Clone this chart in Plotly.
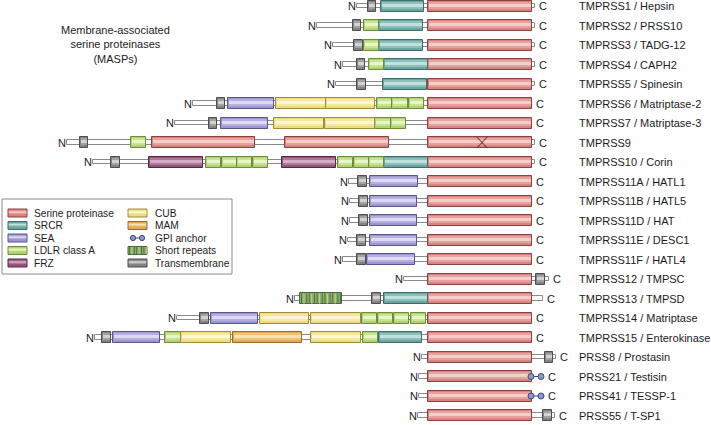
import plotly.graph_objects as go
import numpy as np

# ---------------- data ----------------
proteins = ["TMPRSS1 / Hepsin", "TMPRSS2 / PRSS10", "TMPRSS3 / TADG-12", "TMPRSS4 / CAPH2",
            "TMPRSS5 / Spinesin", "TMPRSS6 / Matriptase-2", "TMPRSS7 / Matriptase-3", "TMPRSS9",
            "TMPRSS10 / Corin", "TMPRSS11A / HATL1", "TMPRSS11B / HATL5", "TMPRSS11D / HAT",
            "TMPRSS11E / DESC1", "TMPRSS11F / HATL4", "TMPRSS12 / TMPSC", "TMPRSS13 / TMPSD",
            "TMPRSS14 / Matriptase", "TMPRSS15 / Enterokinase", "PRSS8 / Prostasin",
            "PRSS21 / Testisin", "PRSS41 / TESSP-1", "PRSS55 / T-SP1"]

# polypeptide chain extent (N terminus -> C terminus), horizontal diagram units
chain_start = [357, 317, 333, 343, 336, 193, 175, 67, 93, 349, 350, 350, 348, 343,
               404, 295, 177, 95, 422, 419, 419, 418]
chain_end = [535, 535, 535, 535, 535, 532, 532, 535, 535, 532, 532, 532, 532, 532,
             549, 543, 532, 532, 556, 532, 532, 555]

# domains: (row, start, end)
serine_proteinase = [(0, 428, 532), (1, 428, 532), (2, 428, 532), (3, 428, 532), (4, 428, 532),
                     (5, 428, 532), (6, 428, 532), (7, 152, 255), (7, 285, 389), (7, 428, 532),
                     (8, 428, 532), (9, 428, 532), (10, 428, 532), (11, 428, 532), (12, 428, 532),
                     (13, 428, 532), (14, 428, 532), (15, 428, 532), (16, 428, 532), (17, 428, 532),
                     (18, 428, 532), (19, 428, 532), (20, 428, 532), (21, 428, 532)]
srcr = [(0, 381, 424), (1, 379, 423), (2, 379, 423), (3, 384, 428), (4, 383, 427),
        (8, 384, 428), (15, 384, 428), (17, 379, 422)]
sea = [(5, 228, 274), (6, 221, 268), (9, 370, 418), (10, 370, 417), (11, 370, 417),
       (12, 370, 417), (13, 367, 415), (16, 211, 258), (17, 113, 160)]
ldlr = [(1, 364, 379), (2, 364, 379), (3, 369, 384),
        (5, 377, 392), (5, 392, 408), (5, 409, 424),
        (6, 375, 391), (6, 391, 406), (7, 131, 146),
        (8, 206, 221), (8, 222, 237), (8, 237, 252), (8, 253, 268),
        (8, 338, 353), (8, 354, 369), (8, 369, 384),
        (16, 362, 377), (16, 378, 393), (16, 394, 409), (16, 411, 426),
        (17, 165, 181), (17, 363, 378)]
frz = [(8, 149, 203), (8, 282, 336)]
cub = [(5, 276, 326), (5, 326, 375), (6, 274, 324), (6, 325, 375),
       (16, 260, 309), (16, 311, 361), (17, 181, 231), (17, 311, 361)]
mam = [(17, 233, 302)]
transmembrane = [(0, 368, 376), (1, 353, 361), (2, 354, 363), (3, 357, 365), (4, 357, 366),
                 (5, 217, 225), (6, 209, 217), (7, 80, 88), (8, 111, 120), (9, 358, 367),
                 (10, 359, 368), (11, 359, 368), (12, 357, 366), (13, 357, 366), (14, 536, 545),
                 (15, 372, 381), (16, 200, 209), (17, 102, 111), (18, 545, 553), (21, 543, 552)]
short_repeats = [(15, 300, 342)]
gpi_anchor = [(19, 531, 541), (20, 531, 541)]
inactive_site = [(7, 482)]

legend_col1 = ["Serine proteinase", "SRCR", "SEA", "LDLR class A", "FRZ"]
legend_col2 = ["CUB", "MAM", "GPI anchor", "Short repeats", "Transmembrane"]
title_text = "Membrane-associated<br>serine proteinases<br>(MASPs)"

# ---------------- styles ----------------
W, H = 711, 425
ROW_PX, FIRST_PX = 19.5, 6.0
BOX_H = 11 / ROW_PX
CHAIN_H = 4.5 / ROW_PX
FONT = "Liberation Sans, Arial, Helvetica, sans-serif"
TXT = "#1c1c1c"

styles = {  # base, mid, light, border
    "Serine proteinase": ("#d7837f", "#e6a29d", "#f5cdc9", "#8e4040"),
    "SRCR": ("#6aa5a2", "#8dbfbb", "#c2e1dd", "#3d6e6b"),
    "SEA": ("#9c97d1", "#b5b0e0", "#dedaf5", "#59558f"),
    "LDLR class A": ("#b0d272", "#c8e392", "#e8f5c8", "#6d8d3a"),
    "FRZ": ("#93567b", "#b07898", "#d6abc4", "#55284a"),
    "CUB": ("#eedb7e", "#f6e8a4", "#fdf7d8", "#9c8c3c"),
    "MAM": ("#e5a853", "#f0c27a", "#f9e1b6", "#9a6a28"),
    "Transmembrane": ("#838383", "#a3a3a3", "#d2d2d2", "#4e4e4e"),
}
SR_BASE, SR_BORDER, SR_DARK, SR_YELLOW = "#86ad78", "#48683c", "#4b7746", "#d9c85e"
GPI_FILL, GPI_LINE = "#8b9bc8", "#3a4876"

domain_sets = [("Serine proteinase", serine_proteinase), ("SRCR", srcr), ("SEA", sea),
               ("LDLR class A", ldlr), ("FRZ", frz), ("CUB", cub), ("MAM", mam),
               ("Transmembrane", transmembrane)]

fig = go.Figure()

# backbone chain
rows = list(range(len(proteins)))
fig.add_trace(go.Bar(orientation="h", y=rows, base=chain_start,
                     x=[e - s for s, e in zip(chain_start, chain_end)], width=CHAIN_H,
                     marker=dict(color="white", line=dict(color="#8a8a8a", width=1)),
                     hoverinfo="skip", showlegend=False))

# domain bodies
for name, segs in domain_sets:
    base, mid, light, border = styles[name]
    fig.add_trace(go.Bar(orientation="h", y=[s[0] for s in segs], base=[s[1] for s in segs],
                         x=[s[2] - s[1] for s in segs], width=BOX_H,
                         marker=dict(color=base, line=dict(color=border, width=1)),
                         hoverinfo="skip", showlegend=False, name=name))
# short repeats body
fig.add_trace(go.Bar(orientation="h", y=[s[0] for s in short_repeats], base=[s[1] for s in short_repeats],
                     x=[s[2] - s[1] for s in short_repeats], width=BOX_H,
                     marker=dict(color=SR_BASE, line=dict(color=SR_BORDER, width=1)),
                     hoverinfo="skip", showlegend=False))

# cylinder-like shading bands
for name, segs in domain_sets:
    base, mid, light, border = styles[name]
    for col, wd, off in ((mid, 0.36, -0.21), (light, 0.14, -0.11)):
        fig.add_trace(go.Bar(orientation="h", y=[s[0] for s in segs],
                             base=[s[1] + 0.8 for s in segs],
                             x=[s[2] - s[1] - 1.6 for s in segs], width=wd, offset=off,
                             marker=dict(color=col, line=dict(width=0)),
                             hoverinfo="skip", showlegend=False))

# short repeat stripes
for r, s, e in short_repeats:
    xs_d = np.arange(s + 1.5, e - 0.5, 2.6)
    xs_y = np.arange(s + 4.0, e - 2, 7.8)
    fig.add_trace(go.Scatter(x=xs_d, y=[r] * len(xs_d), mode="markers",
                             marker=dict(symbol="line-ns", size=7.3, line=dict(color=SR_DARK, width=1)),
                             hoverinfo="skip", showlegend=False))
    fig.add_trace(go.Scatter(x=xs_y, y=[r] * len(xs_y), mode="markers",
                             marker=dict(symbol="line-ns", size=7.3, line=dict(color=SR_YELLOW, width=1.4)),
                             hoverinfo="skip", showlegend=False))

# GPI anchors
gx, gy = [], []
for r, a, b in gpi_anchor:
    gx += [a, b, None]
    gy += [r, r, None]
fig.add_trace(go.Scatter(x=gx, y=gy, mode="lines+markers",
                         line=dict(color=GPI_LINE, width=1),
                         marker=dict(size=6, color=GPI_FILL, line=dict(color=GPI_LINE, width=1)),
                         hoverinfo="skip", showlegend=False))

# inactive catalytic domain cross
xx, xy = [], []
for r, c in inactive_site:
    xx += [c - 5, c + 5, None, c - 5, c + 5, None]
    xy += [r - 0.27, r + 0.27, None, r + 0.27, r - 0.27, None]
fig.add_trace(go.Scatter(x=xx, y=xy, mode="lines", line=dict(color="#4a2020", width=1),
                         hoverinfo="skip", showlegend=False))

# ---------------- annotations ----------------
ann = []
gpi_end = {r: b for r, a, b in gpi_anchor}
for i, p in enumerate(proteins):
    ann.append(dict(x=577, y=i, xref="x", yref="y", text=p, showarrow=False, xanchor="left",
                    yanchor="middle", font=dict(size=11, color=TXT, family=FONT)))
    ann.append(dict(x=chain_start[i], y=i, xref="x", yref="y", text="N", showarrow=False,
                    xanchor="right", yanchor="middle", xshift=0.5,
                    font=dict(size=11, color=TXT, family=FONT)))
    cx = chain_end[i] + 2 if i not in gpi_end else gpi_end[i] + 5
    ann.append(dict(x=cx, y=i, xref="x", yref="y", text="C", showarrow=False,
                    xanchor="left", yanchor="middle",
                    font=dict(size=11, color=TXT, family=FONT)))


def px(x):
    return x / W


def py(y):
    return 1 - y / H


ann.append(dict(x=px(116), y=py(45), xref="paper", yref="paper", text=title_text, showarrow=False,
                xanchor="center", yanchor="middle", align="center",
                font=dict(size=11, color=TXT, family=FONT)))

shapes = []
# legend frame
shapes.append(dict(type="rect", xref="paper", yref="paper", x0=px(2), x1=px(232),
                   y0=py(274), y1=py(199), line=dict(color="#8a8a8a", width=1), fillcolor="white",
                   layer="below"))
leg_y = [213, 225.5, 238, 250.5, 263]


def swatch(x0, yc, name):
    base, mid, light, border = styles[name]
    shapes.append(dict(type="rect", xref="paper", yref="paper", x0=px(x0), x1=px(x0 + 19),
                       y0=py(yc + 4), y1=py(yc - 4), fillcolor=base, line=dict(color=border, width=1)))
    shapes.append(dict(type="rect", xref="paper", yref="paper", x0=px(x0 + 0.8), x1=px(x0 + 18.2),
                       y0=py(yc + 1), y1=py(yc - 2.5), fillcolor=mid, line=dict(width=0)))
    shapes.append(dict(type="rect", xref="paper", yref="paper", x0=px(x0 + 0.8), x1=px(x0 + 18.2),
                       y0=py(yc - 0.2), y1=py(yc - 1.6), fillcolor=light, line=dict(width=0)))


for k, name in enumerate(legend_col1):
    swatch(8, leg_y[k], name)
    ann.append(dict(x=px(32), y=py(leg_y[k]), xref="paper", yref="paper", text=name, showarrow=False,
                    xanchor="left", yanchor="middle", font=dict(size=10.2, color=TXT, family=FONT)))
for k, name in enumerate(legend_col2):
    yc = leg_y[k]
    if name in styles:
        swatch(128, yc, name)
    elif name == "GPI anchor":
        shapes.append(dict(type="line", xref="paper", yref="paper", x0=px(133), x1=px(142),
                           y0=py(yc), y1=py(yc), line=dict(color=GPI_LINE, width=1)))
        for cxp in (133, 142):
            shapes.append(dict(type="circle", xref="paper", yref="paper", x0=px(cxp - 2.6),
                               x1=px(cxp + 2.6), y0=py(yc + 2.6), y1=py(yc - 2.6),
                               fillcolor=GPI_FILL, line=dict(color=GPI_LINE, width=1)))
    elif name == "Short repeats":
        shapes.append(dict(type="rect", xref="paper", yref="paper", x0=px(128), x1=px(147),
                           y0=py(yc + 4), y1=py(yc - 4), fillcolor=SR_BASE,
                           line=dict(color=SR_BORDER, width=1)))
        for j, sx in enumerate(np.arange(129.5, 147, 2.4)):
            c = SR_YELLOW if j % 3 == 1 else SR_DARK
            shapes.append(dict(type="line", xref="paper", yref="paper", x0=px(sx), x1=px(sx),
                               y0=py(yc + 3.5), y1=py(yc - 3.5), line=dict(color=c, width=1)))
    ann.append(dict(x=px(153), y=py(yc), xref="paper", yref="paper", text=name, showarrow=False,
                    xanchor="left", yanchor="middle", font=dict(size=10.2, color=TXT, family=FONT)))

y_top = -FIRST_PX / ROW_PX
y_bot = (H - FIRST_PX) / ROW_PX
fig.update_layout(
    width=W, height=H, margin=dict(l=0, r=0, t=0, b=0),
    paper_bgcolor="white", plot_bgcolor="white",
    barmode="overlay", bargap=0,
    xaxis=dict(range=[0, W], visible=False, fixedrange=True),
    yaxis=dict(range=[y_bot, y_top], visible=False, fixedrange=True),
    annotations=ann, shapes=shapes, showlegend=False,
    font=dict(family=FONT, color=TXT),
)
fig.write_html("out.html", config={"displayModeBar": False},
               post_script="document.body.style.margin='0';document.body.style.padding='0';")
